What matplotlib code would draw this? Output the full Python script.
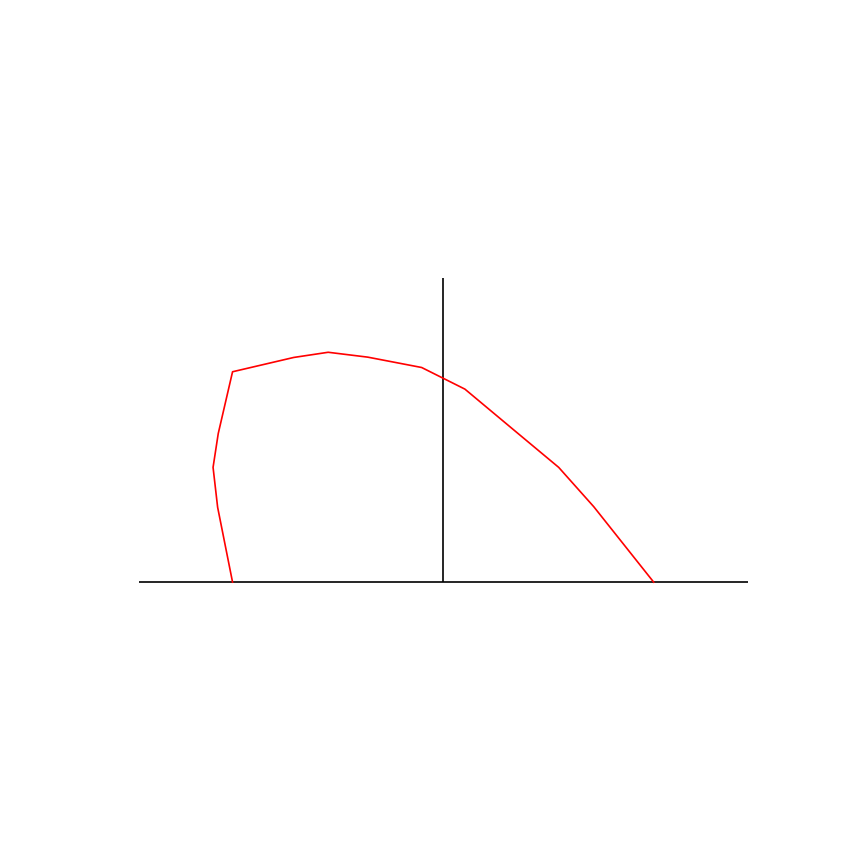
import matplotlib
matplotlib.use('Agg')
import matplotlib.pyplot as plt

# curve vertices (data units, axis half-width = 1)
curve_x = [-0.692, -0.741, -0.756, -0.739, -0.692, -0.491, -0.378, -0.248,
           -0.071, 0.071, 0.241, 0.379, 0.494, 0.691]
curve_y = [0.0, 0.246, 0.377, 0.488, 0.691, 0.738, 0.755, 0.739,
           0.705, 0.634, 0.492, 0.377, 0.248, 0.0]

# reference axis lines
hline_x = [-1.0, 1.0]
hline_y = [0.0, 0.0]
vline_x = [0.0, 0.0]
vline_y = [0.0, 1.0]

fig = plt.figure(figsize=(8.64, 8.64), dpi=100)
ax = fig.add_axes([0.1606, 0.1500, 0.7049, 0.5991])
ax.set_xlim(-1, 1)
ax.set_ylim(-0.5, 1.2)
ax.axis('off')

ax.plot(hline_x, hline_y, color='black', lw=1.2, solid_capstyle='butt')
ax.plot(vline_x, vline_y, color='black', lw=1.2, solid_capstyle='butt')
ax.plot(curve_x, curve_y, color='red', lw=1.2)

fig.savefig('out.png', dpi=100)
